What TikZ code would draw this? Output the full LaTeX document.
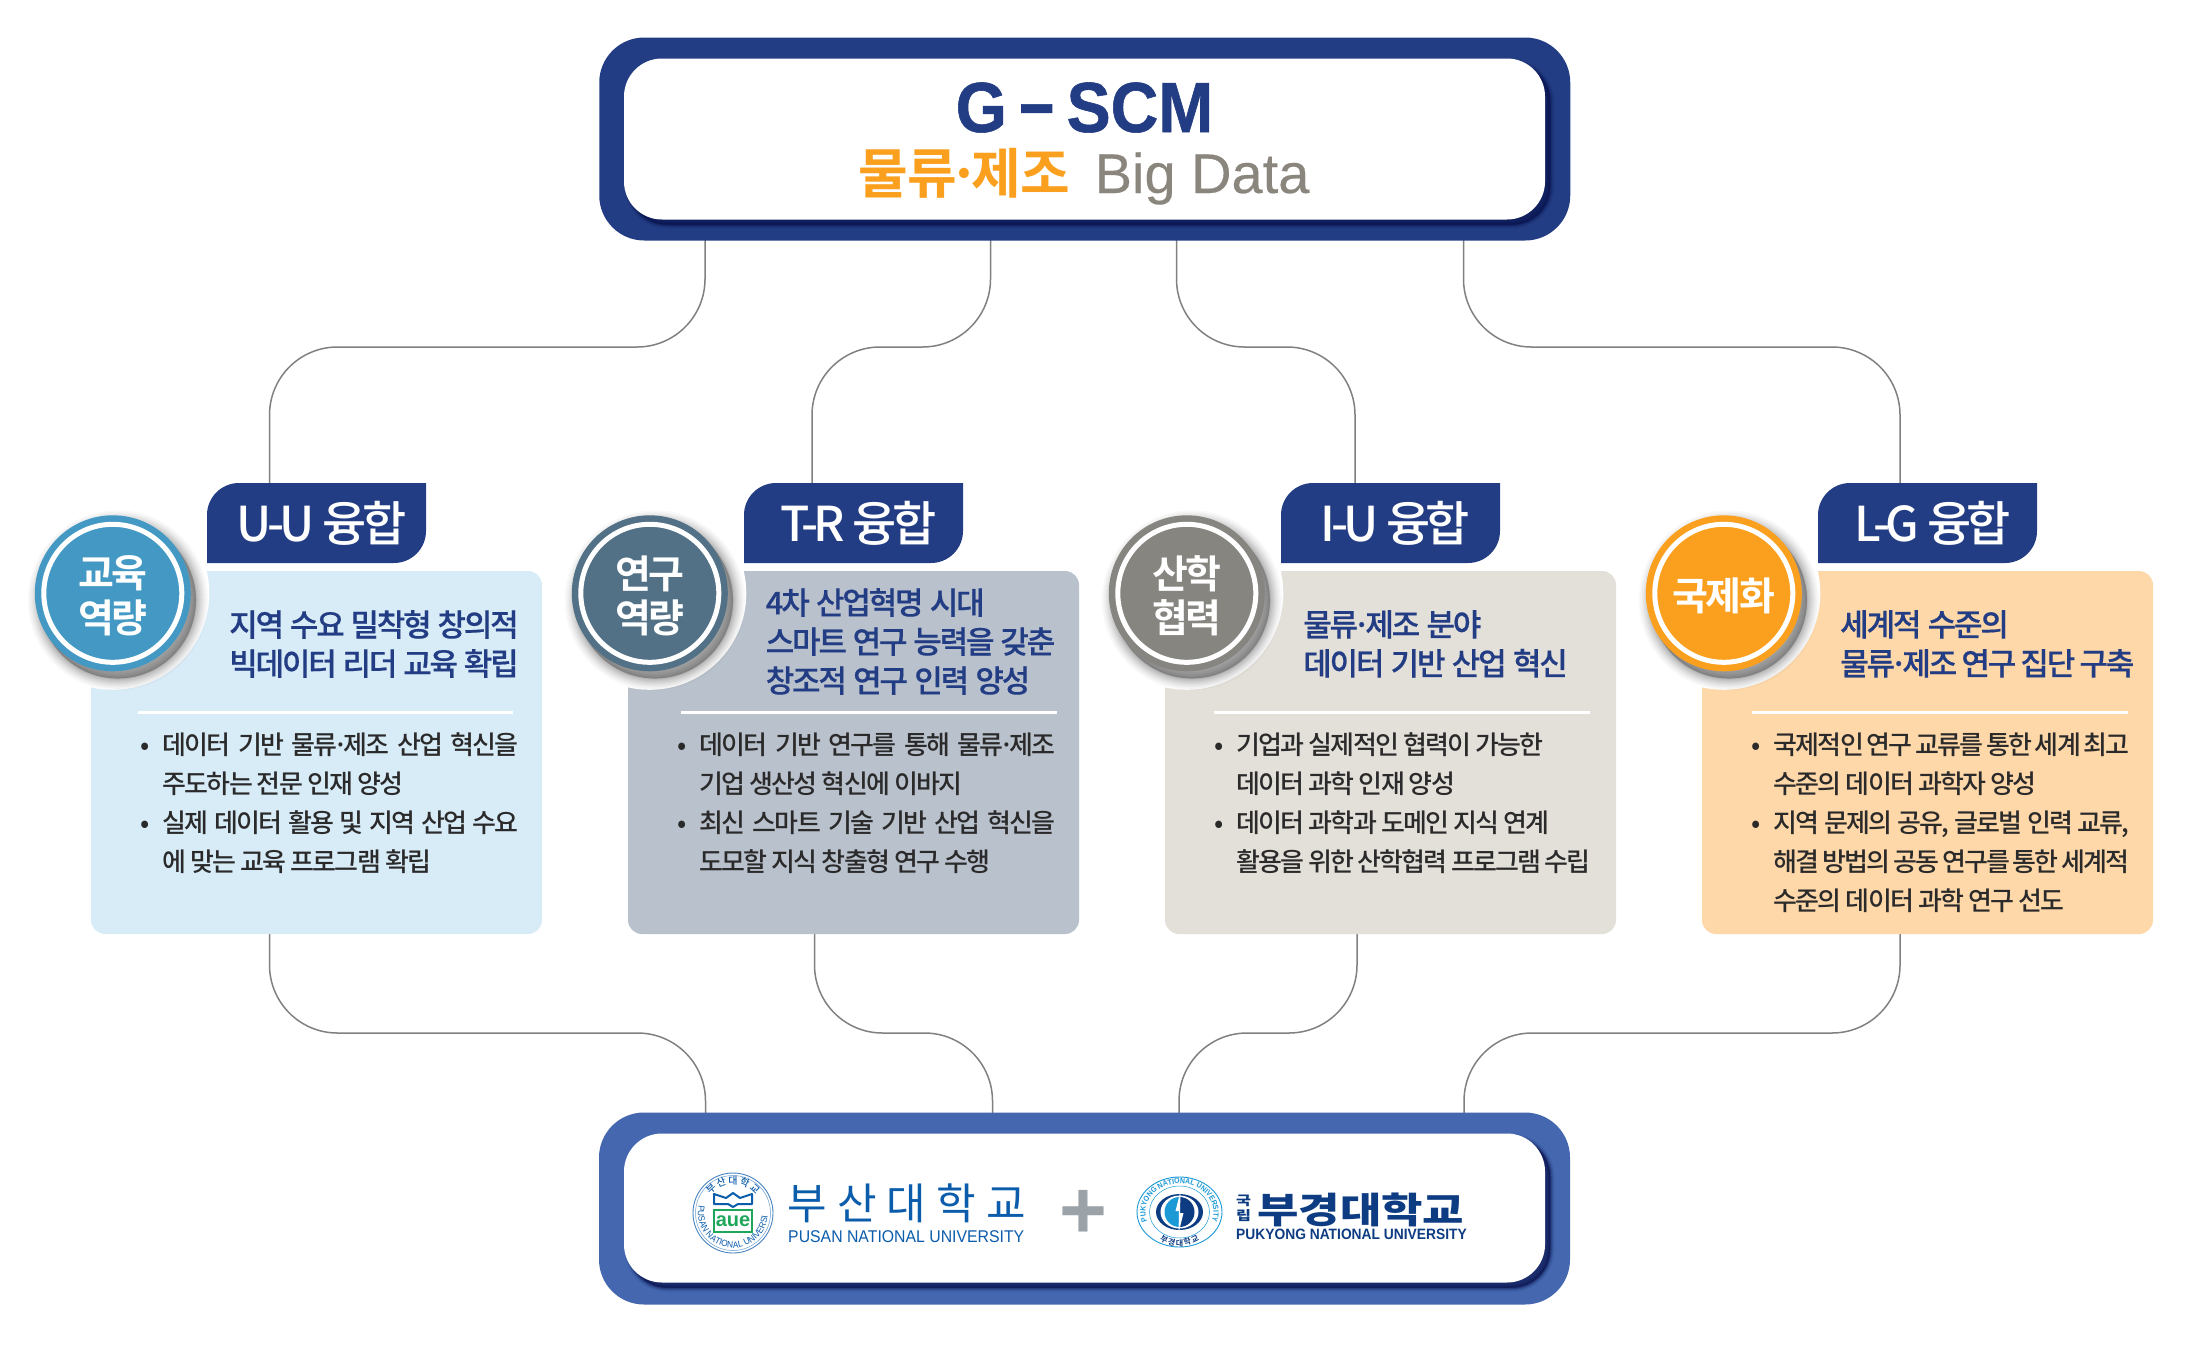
\documentclass[tikz,border=0pt]{standalone}
\usepackage{fontspec}
\setmainfont{Liberation Sans}
\newfontfamily\kormed[LetterSpace=-7,WordSpace=1]{Noto Sans CJK KR Medium}
\newfontfamily\kortab[LetterSpace=-10,WordSpace=1]{Noto Sans CJK KR Medium}
\newfontfamily\korhead[LetterSpace=-7,WordSpace=1.3,FakeBold=.4]{Noto Sans CJK KR Medium}
\newfontfamily\korbadge[LetterSpace=-7]{Noto Sans CJK KR Bold}
\newfontfamily\kortitle{Noto Sans CJK KR Bold}
\newfontfamily\korwide[LetterSpace=24]{Noto Sans CJK KR}
\newfontfamily\korblack[FakeStretch=1.25]{Noto Sans CJK KR Black}
\newfontfamily\gscmfont[FakeStretch=.93,FakeBold=.8]{Liberation Sans}
\newfontfamily\bigdatafont[FakeBold=.3]{Liberation Sans}
\newfontfamily\pnufont[FakeStretch=.93]{Liberation Sans}
\newfontfamily\pkufont[FakeStretch=.92]{Liberation Sans}
\usetikzlibrary{shadows}
\usetikzlibrary{decorations.text}

\definecolor{navy}{HTML}{233D84}
\definecolor{navydark}{HTML}{0A144F}
\definecolor{frameblue}{HTML}{4467AF}
\definecolor{orangekey}{HTML}{FAA01E}
\definecolor{graykey}{HTML}{8A867E}
\definecolor{linkgray}{HTML}{808080}
\definecolor{cardsky}{HTML}{D8ECF8}
\definecolor{cardslate}{HTML}{B9C1CC}
\definecolor{cardstone}{HTML}{E3DFD9}
\definecolor{cardpeach}{HTML}{FED8A9}
\definecolor{ringsky}{HTML}{4499C4}
\definecolor{ringslate}{HTML}{527186}
\definecolor{ringstone}{HTML}{878580}
\definecolor{ringpeach}{HTML}{FAA01E}
\definecolor{bodyink}{HTML}{2B2A2B}
\definecolor{pnublue}{HTML}{0B5CAB}
\definecolor{pnugreen}{HTML}{1EA65A}
\definecolor{pkunavy}{HTML}{0E3C82}
\definecolor{pkucyan}{HTML}{1C9AD6}
\definecolor{plusgray}{HTML}{9CA3A8}

\newcommand{\fullline}[1]{\makebox[356pt][s]{#1}}
\newcommand{\headline}[2][289.5pt]{\makebox[#1][s]{#2}}
\newcommand{\dotmark}{\llap{\makebox[22pt][l]{•}}}
\newcommand{\middot}{\hspace{-.17em}·\hspace{-.17em}}

\tikzset{
    softlayer/.style n args={3}{general shadow={shadow xshift=#1,shadow yshift=-#1,fill=navydark,draw=navydark,line width=#2,opacity=#3}},
    softshadow/.style={softlayer={#1}{9pt}{.06},softlayer={#1}{7pt}{.10},softlayer={#1}{5pt}{.16},softlayer={#1}{3pt}{.25},softlayer={#1}{1pt}{.4}},
    framebox/.style={rectangle,rounded corners=45pt,minimum width=971pt,inner sep=0pt},
    whitebox/.style={rectangle,rounded corners=38pt,minimum width=921pt,fill=white,inner sep=0pt,softshadow=5pt},
    link/.style={draw=linkgray,line width=1.5pt,rounded corners=68pt},
    cardbox/.style={rectangle,rounded corners=14pt,minimum width=451pt,minimum height=363pt,inner sep=0pt},
    halo/.style={circle,fill=white,minimum size=193pt,inner sep=0pt},
    graylayer/.style 2 args={general shadow={shadow xshift=5pt,shadow yshift=-7pt,fill=black!70,draw=black!70,line width=#1,opacity=#2}},
    badge/.style={circle,minimum size=156pt,inner sep=0pt,
        graylayer={24pt}{.03},graylayer={21pt}{.03},graylayer={18pt}{.04},graylayer={15pt}{.05},graylayer={12pt}{.06},graylayer={9pt}{.07},graylayer={6pt}{.08},graylayer={3pt}{.10},graylayer={1pt}{.12}},
    badgering/.style={circle,draw=white,line width=5pt,minimum size=138pt,inner sep=0pt},
    badgetext/.style={text=white,align=center,inner sep=0pt,yshift=-2.5pt,font=\korbadge\fontsize{39}{44.5}\selectfont},
    tabtext/.style={text=white,anchor=base,inner sep=0pt,font=\kortab\fontsize{48}{48}\selectfont},
    divider/.style={draw=white,line width=3pt},
    headtext/.style={text=navy,anchor=north west,align=left,inner sep=0pt,font=\korhead\fontsize{31}{39}\selectfont},
    bodytext/.style={text=bodyink,anchor=north west,align=left,inner sep=0pt,font=\kormed\fontsize{26}{39}\selectfont},
}

\begin{document}
\begin{tikzpicture}[x=1pt,y=-1pt]
    \useasboundingbox (0,0) rectangle (2194,1347);

    % ends of the connectors
    \coordinate (gscma) at (705,240);
    \coordinate (gscmb) at (990.5,240);
    \coordinate (gscmc) at (1176.5,240);
    \coordinate (gscmd) at (1463.5,240);
    \coordinate (tabuu) at (269.5,484);
    \coordinate (tabtr) at (812,484);
    \coordinate (tabiu) at (1355,484);
    \coordinate (tablg) at (1900,484);
    \coordinate (footuu) at (269.5,933);
    \coordinate (foottr) at (814.5,933);
    \coordinate (footiu) at (1357,933);
    \coordinate (footlg) at (1900,933);
    \coordinate (unia) at (705.5,1113);
    \coordinate (unib) at (992.5,1113);
    \coordinate (unic) at (1179,1113);
    \coordinate (unid) at (1464,1113);

    \draw[link] (gscma) -- (gscma |- 0,347) -- (tabuu |- 0,347) -- (tabuu);
    \draw[link] (gscmb) -- (gscmb |- 0,347) -- (tabtr |- 0,347) -- (tabtr);
    \draw[link] (gscmc) -- (gscmc |- 0,347) -- (tabiu |- 0,347) -- (tabiu);
    \draw[link] (gscmd) -- (gscmd |- 0,347) -- (tablg |- 0,347) -- (tablg);
    \draw[link] (footuu) -- (footuu |- 0,1033) -- (unia |- 0,1033) -- (unia);
    \draw[link] (foottr) -- (foottr |- 0,1033) -- (unib |- 0,1033) -- (unib);
    \draw[link] (footiu) -- (footiu |- 0,1033) -- (unic |- 0,1033) -- (unic);
    \draw[link] (footlg) -- (footlg |- 0,1033) -- (unid |- 0,1033) -- (unid);

    % top box
    \node[framebox,fill=navy,minimum height=203pt] (gscmframe) at (1084.75,139) {};
    \node[whitebox,minimum height=161pt] (gscm) at (1084.5,139) {};
    \node[anchor=base,inner sep=0pt,text=navy,font=\gscmfont\bfseries\fontsize{71}{71}\selectfont] (gscmtitle) at (1084.5,132)
        {G\hspace{10pt}\raisebox{5pt}{\scalebox{1.8}[1]{-}}\hspace{10pt}SCM};
    \node[anchor=base west,inner sep=0pt,text=graykey,font=\bigdatafont\fontsize{56}{56}\selectfont] (gscmsub) at (858,193)
        {\makebox[236.5pt][l]{\kortitle\fontsize{54}{54}\selectfont\color{orangekey}물류\middot 제조}Big Data};

    % four cards
    \foreach \name/\cx/\dx/\cfill/\dfill/\cname in {uu/91/137.5/cardsky/ringsky/U-U,tr/628/681/cardslate/ringslate/T-R,iu/1165/1214/cardstone/ringstone/I-U,lg/1702/1752/cardpeach/ringpeach/L-G}{
        \node[cardbox,fill=\cfill] (card\name) at (\cx+225.5,752.5) {};
        \node[halo] (halo\name) at (\cx+21.8,593.3) {};
        \node[badge,fill=\dfill] (badge\name) at (\cx+21.8,593.3) {};
        \node[badgering] (ring\name) at (\cx+21.8,593.3) {};
        \fill[navy] (\cx+116,563) [rounded corners=32pt] -- (\cx+116,483) [sharp corners] -- (\cx+335,483) [rounded corners=32pt] -- (\cx+335,563) [sharp corners] -- cycle;
        \node[tabtext] (tab\name) at (\cx+230.5,541) {\cname\hspace{8pt}융합};
        \draw[divider] (\dx,712.5) -- (\dx+375.5,712.5);
    }

    \node[badgetext] (badgetextuu) at (badgeuu) {교육\\역량};
    \node[badgetext] (badgetexttr) at (badgetr) {연구\\역량};
    \node[badgetext] (badgetextiu) at (badgeiu) {산학\\협력};
    \node[badgetext] (badgetextlg) at (badgelg) {국제화};

    \node[headtext] (headuu) at (229,610) {\headline{지역 수요 밀착형 창의적}\\\headline{빅데이터 리더 교육 확립}};
    \node[headtext] (headtr) at (765.5,588) {4차 산업혁명 시대\\\headline{스마트 연구 능력을 갖춘}\\창조적 연구 인력 양성};
    \node[headtext] (headiu) at (1303,610) {물류\middot 제조 분야\\데이터 기반 산업 혁신};
    \node[headtext] (headlg) at (1840,610) {세계적 수준의\\\headline[294pt]{물류\middot 제조 연구 집단 구축}};

    \node[bodytext] (bodyuu) at (162.5,732.5) {\dotmark\fullline{데이터 기반 물류\middot 제조 산업 혁신을}\\주도하는 전문 인재 양성\\\dotmark\fullline{실제 데이터 활용 및 지역 산업 수요}\\에 맞는 교육 프로그램 확립};
    \node[bodytext] (bodytr) at (699.5,732.5) {\dotmark\fullline{데이터 기반 연구를 통해 물류\middot 제조}\\기업 생산성 혁신에 이바지\\\dotmark\fullline{최신 스마트 기술 기반 산업 혁신을}\\도모할 지식 창출형 연구 수행};
    \node[bodytext] (bodyiu) at (1236.5,732.5) {\dotmark 기업과 실제적인 협력이 가능한\\데이터 과학 인재 양성\\\dotmark 데이터 과학과 도메인 지식 연계\\\makebox[354pt][s]{활용을 위한 산학협력 프로그램 수립}};
    \node[bodytext] (bodylg) at (1773.5,732.5) {\dotmark\fullline{국제적인 연구 교류를 통한 세계 최고}\\수준의 데이터 과학자 양성\\\dotmark\fullline{지역 문제의 공유, 글로벌 인력 교류,}\\\fullline{해결 방법의 공동 연구를 통한 세계적}\\수준의 데이터 과학 연구 선도};

    % bottom box
    \node[framebox,fill=frameblue,minimum height=192pt] (uniframe) at (1084.5,1208.5) {};
    \node[whitebox,minimum height=149pt] (uni) at (1084.5,1208) {};
    \node[anchor=base west,inner sep=0pt,text=pnublue,font=\korwide\fontsize{43}{43}\selectfont] (pnuname) at (787,1219) {부산대학교};
    \node[anchor=base west,inner sep=0pt,text=pnublue,font=\pnufont\fontsize{17}{17}\selectfont] (pnueng) at (788,1242) {PUSAN NATIONAL UNIVERSITY};
    \node[inner sep=0pt,text=plusgray,font=\bfseries\fontsize{82}{82}\selectfont] (plus) at (1083,1214.5) {+};
    \node[anchor=north west,inner sep=0pt,text=pkunavy,font=\korblack\fontsize{13}{15}\selectfont,align=center] (pkustate) at (1236,1195) {국\\립};
    \node[anchor=base west,inner sep=0pt,text=pkunavy,font=\korblack\fontsize{36}{36}\selectfont] (pkuname) at (1257,1223) {부경대학교};
    \node[anchor=base west,inner sep=0pt,text=pkunavy,font=\pkufont\bfseries\fontsize{15}{15}\selectfont] (pkueng) at (1236,1239) {PUKYONG NATIONAL UNIVERSITY};

    % seal on the left
    \begin{scope}[shift={(733,1213)},y=1pt]
        \draw[pnublue!75,line width=.9pt] (0,0) circle[radius=40];
        \draw[pnublue!60,line width=.5pt] (0,0) circle[radius=37.5];
        \path[decorate,decoration={text along path,text={|\fontsize{10}{10}\selectfont\kormed\color{pnublue}|부 산 대 학 교},text align=center}]
            (150:29) arc[start angle=150,end angle=30,radius=29];
        \path[decorate,decoration={text along path,text={|\fontsize{9}{9}\selectfont\pnufont\color{pnublue}|PUSAN NATIONAL UNIVERSITY},text align=center}]
            (185:35) arc[start angle=185,end angle=355,radius=35];
        \draw[pnublue,line width=2pt,line join=round] (-19,19) -- (-19,9) -- (-5,9) -- (0,6) -- (5,9) -- (19,9) -- (19,19) -- (7,15) -- (0,20) -- (-7,15) -- cycle;
        \draw[pnugreen,line width=2.4pt] (-19,3) rectangle (19,-19);
        \node[inner sep=0pt,text=pnugreen,font=\bfseries\fontsize{20}{20}\selectfont] (pnubook) at (0,-8) {aue};
    \end{scope}

    % seal on the right
    \begin{scope}[shift={(1179.5,1212)},y=1pt]
        \draw[pkucyan,line width=.9pt] (0,0) ellipse[x radius=42.5,y radius=35];
        \draw[pkucyan,line width=.5pt] (0,0) ellipse[x radius=30,y radius=26];
        \path[decorate,decoration={text along path,text={|\fontsize{7.6}{8}\selectfont\pkufont\bfseries\color{pkucyan}|PUKYONG NATIONAL UNIVERSITY},text align=center}]
            (196:34 and 28.5) arc[start angle=196,end angle=-16,x radius=34,y radius=28.5];
        \path[decorate,decoration={text along path,text={|\fontsize{8}{8}\selectfont\korbadge\color{pkunavy}|부 경 대 학 교},text align=center}]
            (220:36 and 34) arc[start angle=220,end angle=320,x radius=36,y radius=34];
        \fill[pkunavy] (0,0) ellipse[x radius=23.5,y radius=18];
        \fill[white] (0,0) ellipse[x radius=19,y radius=16.5];
        \fill[pkucyan] (0,15) arc[start angle=90,end angle=270,radius=15] -- cycle;
        \fill[pkunavy] (0,15) arc[start angle=90,end angle=-90,radius=15] -- cycle;
        \fill[white] (1,21) -- (-4,1) -- (-.5,1) -- (-1,-21) -- (4,-1) -- (.5,-1) -- cycle;
    \end{scope}
\end{tikzpicture}
\end{document}
